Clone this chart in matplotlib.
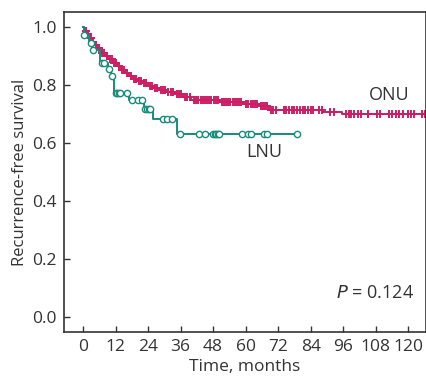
import numpy as np
import matplotlib.pyplot as plt

# ONU Kaplan-Meier step curve (time in months, survival after step)
onu_t = [0, 0.5, 1.5, 2.5, 3.5, 4.5, 5.5, 6.5, 8, 9.5, 11, 12.5, 14, 15.5, 17,
         18.5, 20, 22, 24, 26, 28, 31, 34, 37, 40, 50.5, 59.5, 65, 68.5, 88.5, 95.5]
onu_s = [1.0, 0.985, 0.975, 0.962, 0.95, 0.94, 0.928, 0.912, 0.9, 0.889, 0.878,
         0.866, 0.852, 0.843, 0.83, 0.822, 0.815, 0.806, 0.798, 0.789, 0.783,
         0.776, 0.768, 0.758, 0.748, 0.741, 0.735, 0.728, 0.714, 0.706, 0.70]
onu_end = 126.5
onu_censor = [1.0, 2.0, 2.8, 3.8, 4.8, 5.8, 7.0, 7.8, 8.8, 9.8, 10.6, 11.6, 12.2,
              13.2, 14.4, 15.2, 16.2, 17.6, 18.8, 19.6, 20.6, 21.4, 22.6, 23.4,
              24.6, 25.4, 26.6, 27.4, 28.6, 29.4, 30.2, 31.4, 32.4, 33.2, 34.6,
              35.4, 36.2, 37.6, 38.4, 39.4, 41.0, 41.8, 42.6, 43.4, 44.2, 45.0,
              45.8, 46.6, 47.4, 48.2, 49.0, 49.8, 51.2, 52.0, 52.8, 53.6, 54.4,
              55.2, 56.0, 56.8, 57.6, 58.4, 60.2, 61.0, 61.8, 62.6, 63.4, 64.2,
              65.6, 66.4, 67.2, 68.0, 69.2, 70.2, 71.2, 74.0, 75.0, 76.0, 77.0,
              78.0, 79.0, 80.0, 81.0, 82.0, 83.0, 84.0, 85.0, 87.0, 88.0, 91.0,
              92.5, 97.0, 98.0, 99.0, 100.0, 101.5, 102.5, 105.0, 108.5, 109.5,
              113.0, 114.0, 115.5, 116.5, 118.0, 120.0, 121.0, 122.0, 125.0, 126.0]

# LNU Kaplan-Meier step curve
lnu_t = [0, 0.3, 2.2, 3.4, 6.3, 9.3, 10.3, 11.4, 17.1, 22.5, 26.0, 34.8]
lnu_s = [1.0, 0.972, 0.944, 0.92, 0.875, 0.854, 0.833, 0.773, 0.748, 0.717, 0.683, 0.633]
lnu_end = 78.9
lnu_censor = [0.5, 3.0, 3.8, 7.0, 7.6, 9.7, 10.8, 12.0, 12.6, 13.2, 13.7, 16.1,
              18.0, 20.4, 21.7, 23.0, 23.6, 24.2, 24.7, 29.6, 30.9, 33.0, 35.8,
              42.8, 45.0, 48.1, 48.6, 49.2, 49.8, 50.3, 58.8, 61.0, 61.9, 66.6,
              68.0, 78.9]

x_ticks = [0, 12, 24, 36, 48, 60, 72, 84, 96, 108, 120]
y_ticks = [0.0, 0.2, 0.4, 0.6, 0.8, 1.0]

onu_color = '#CC1F63'
lnu_color = '#178C7A'
text_color = '#333333'

plt.rcParams['font.family'] = ['Open Sans', 'DejaVu Sans']


def surv_at(times, surv, t):
    idx = np.searchsorted(times, t, side='right') - 1
    return np.array(surv)[idx]


fig = plt.figure(figsize=(4.27, 3.77), dpi=100)
ax = fig.add_axes([0.150, 0.119, 0.848, 0.849])

# ONU curve
ax.step(onu_t + [onu_end], onu_s + [onu_s[-1]], where='post', color=onu_color, lw=1.4)
ax.plot(onu_censor, surv_at(onu_t, onu_s, onu_censor), ls='none', marker='+',
        ms=6, mew=1.4, color=onu_color)

# LNU curve
ax.step(lnu_t + [lnu_end], lnu_s + [lnu_s[-1]], where='post', color=lnu_color, lw=1.4)
ax.plot(lnu_censor, surv_at(lnu_t, lnu_s, lnu_censor), ls='none', marker='o',
        ms=4.5, mew=1.0, mfc='white', color=lnu_color)

ax.text(113, 0.765, 'ONU', fontsize=13, color=text_color, ha='center', va='center')
ax.text(67, 0.57, 'LNU', fontsize=13, color=text_color, ha='center', va='center')
ax.text(122, 0.083, '$P$ = 0.124', fontsize=13, color=text_color, ha='right', va='center')

ax.set_xlim(-7, 126.6)
ax.set_ylim(-0.052, 1.052)
ax.set_xticks(x_ticks)
ax.set_yticks(y_ticks)
ax.set_yticklabels(['%.1f' % v for v in y_ticks])
ax.tick_params(direction='in', length=4, width=1, labelsize=12.5, colors=text_color, pad=5)
for s in ax.spines.values():
    s.set_color(text_color)
    s.set_linewidth(1.2)

ax.set_xlabel('Time, months', fontsize=12.5, color=text_color, labelpad=3)
ax.set_ylabel('Recurrence-free survival', fontsize=12, color=text_color, labelpad=3)

fig.savefig('out.png', dpi=100)
